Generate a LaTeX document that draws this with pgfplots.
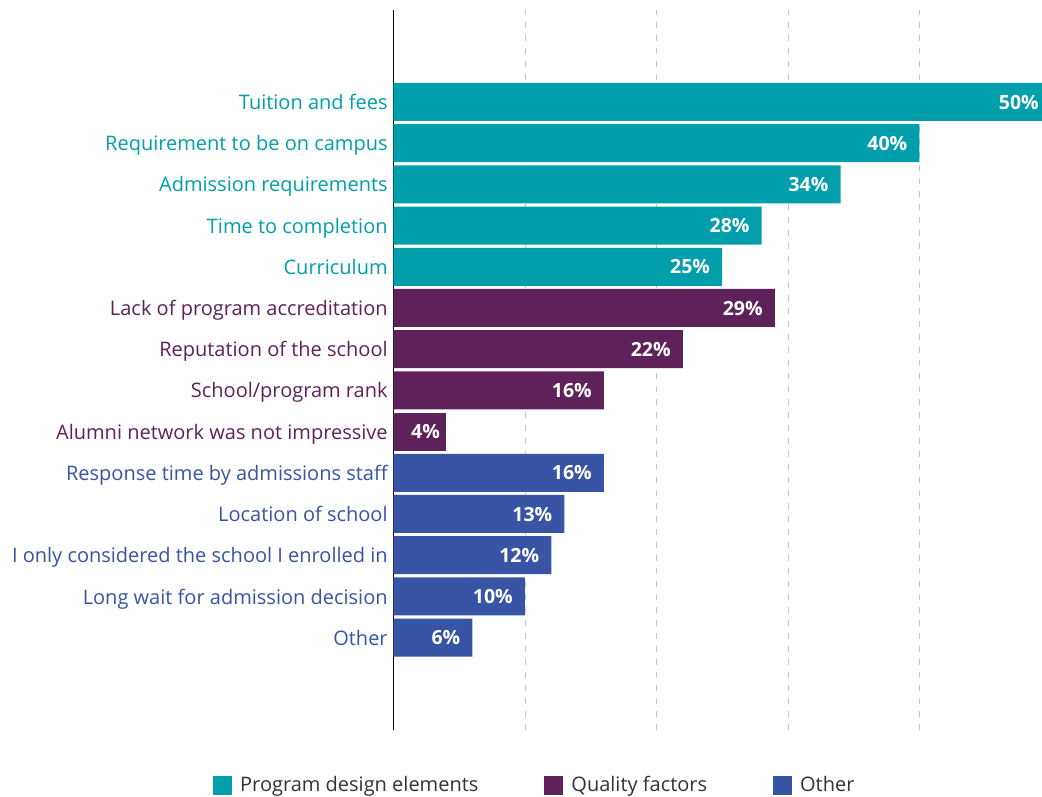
\documentclass[border=0pt]{standalone}
\usepackage{pgfplots}
\pgfplotsset{compat=1.18}
\usepackage{fontspec}
\setmainfont{Open Sans}
\definecolor{cteal}{HTML}{009FAB}
\definecolor{cpurple}{HTML}{5E2159}
\definecolor{cblue}{HTML}{3854A5}
\definecolor{ctext}{HTML}{333333}
\begin{document}
\fontsize{20}{24}\selectfont
\begin{tikzpicture}
\begin{axis}[
  at={(393.5pt,67pt)}, anchor=south west,
  scale only axis, width=657.5pt, height=720pt,
  xmin=0, xmax=50, ymin=-1.243, ymax=16.233,
  /pgf/number format/assume math mode=true,
  xbar, bar width=38pt, bar shift=0pt,
  axis y line*=left, axis x line*=bottom,
  x axis line style={draw=none},
  y axis line style={black, line width=1pt},
  xtick={10,20,30,40}, xticklabels={},
  xmajorgrids, grid style={gray!45, line width=0.8pt, dash pattern=on 6pt off 7pt},
  major tick length=0pt,
  ytick={1,...,14},
  yticklabels={
    {\textcolor{cblue}{Other}},
    {\textcolor{cblue}{Long wait for admission decision}},
    {\textcolor{cblue}{I only considered the school I enrolled in}},
    {\textcolor{cblue}{Location of school}},
    {\textcolor{cblue}{Response time by admissions staff}},
    {\textcolor{cpurple}{Alumni network was not impressive}},
    {\textcolor{cpurple}{School/program rank}},
    {\textcolor{cpurple}{Reputation of the school}},
    {\textcolor{cpurple}{Lack of program accreditation}},
    {\textcolor{cteal}{Curriculum}},
    {\textcolor{cteal}{Time to completion}},
    {\textcolor{cteal}{Admission requirements}},
    {\textcolor{cteal}{Requirement to be on campus}},
    {\textcolor{cteal}{Tuition and fees}}},
  yticklabel style={font=\fontsize{20}{24}\selectfont, xshift=1pt, text depth=0pt},
  nodes near coords={\bfseries\pgfmathprintnumber{\pgfplotspointmeta}\%},
  every node near coord/.append style={white, anchor=east, inner sep=0pt, xshift=-12pt,
     text depth=0pt, font=\fontsize{19.5}{23}\selectfont\bfseries},
  point meta=x,
  legend style={at={(-0.2745,-0.0764)}, anchor=west, draw=none, fill=none,
    legend columns=3, inner sep=0pt,
    font=\fontsize{20}{24}\selectfont\color{ctext},
    nodes={inner xsep=0pt},
    /tikz/every odd column/.append style={column sep=8pt},
    /tikz/every even column/.append style={column sep=66pt}},
  legend image code/.code={\fill[#1, draw=none] (0pt,-9.5pt) rectangle (19pt,9.5pt);},
]
\addplot[fill=cteal, draw=none] coordinates {(50,14) (40,13) (34,12) (28,11) (25,10)};
\addlegendentry{Program design elements}
\addplot[fill=cpurple, draw=none] coordinates {(29,9) (22,8) (16,7)};
\addlegendentry{Quality factors}
\addplot[fill=cblue, draw=none] coordinates {(16,5) (13,4) (12,3) (10,2) (6,1)};
\addlegendentry{Other}
\addplot[fill=cpurple, draw=none, forget plot,
  every node near coord/.append style={xshift=6pt}] coordinates {(4,6)};
\end{axis}
\pgfresetboundingbox
\path (0,0) rectangle (1042pt,797pt);
\end{tikzpicture}
\end{document}
